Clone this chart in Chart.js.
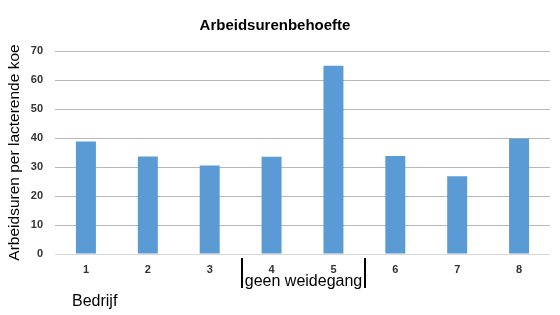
<!DOCTYPE html>
<html>
<head>
<meta charset="utf-8">
<script src="https://cdn.jsdelivr.net/npm/chart.js@4"></script>
<style>
  html, body { margin: 0; padding: 0; background: #fff; }
  #wrap { width: 560px; height: 315px; }
</style>
</head>
<body>
<div id="wrap"><canvas id="laborChart" width="560" height="315"></canvas></div>
<script>
const farms = ['1', '2', '3', '4', '5', '6', '7', '8'];
const hoursPerCow = [38.8, 33.6, 30.5, 33.5, 64.9, 33.8, 26.8, 39.8];
const yTicks = [0, 10, 20, 30, 40, 50, 60, 70];

const FONT = '"Liberation Sans", Arial, sans-serif';

// brackets under farms 4-5 plus the "Bedrijf" label
const extraLabels = {
  id: 'extraLabels',
  afterDraw(chart) {
    const { ctx, scales: { x } } = chart;
    const half = (x.getPixelForValue(1) - x.getPixelForValue(0)) / 2;
    const left = Math.round(x.getPixelForValue(3) - half) + 1;
    const right = Math.round(x.getPixelForValue(4) + half) + 1;

    ctx.save();
    ctx.strokeStyle = '#000';
    ctx.lineWidth = 2;
    ctx.beginPath();
    ctx.moveTo(left, 258);
    ctx.lineTo(left, 288);
    ctx.moveTo(right, 258);
    ctx.lineTo(right, 288);
    ctx.stroke();

    ctx.fillStyle = '#000';
    ctx.font = '16px ' + FONT;
    ctx.textAlign = 'center';
    ctx.textBaseline = 'middle';
    ctx.fillText('geen weidegang', (left + right) / 2, 282);

    ctx.textAlign = 'left';
    ctx.fillText('Bedrijf', 72, 302);
    ctx.restore();
  }
};

const ctx = document.getElementById('laborChart').getContext('2d');
new Chart(ctx, {
  type: 'bar',
  data: {
    labels: farms,
    datasets: [{
      data: hoursPerCow,
      backgroundColor: '#5b9bd5',
      borderWidth: 0,
      categoryPercentage: 1,
      barPercentage: 0.323
    }]
  },
  options: {
    responsive: false,
    animation: false,
    layout: { padding: { left: 0, right: 10, top: 0, bottom: 0 } },
    plugins: {
      legend: { display: false },
      tooltip: { enabled: false },
      title: {
        display: true,
        text: 'Arbeidsurenbehoefte',
        color: '#000',
        font: { family: FONT, size: 15, weight: 'bold' },
        padding: { top: 17, bottom: 16 }
      }
    },
    scales: {
      x: {
        grid: { display: false, drawTicks: false },
        border: { display: false },
        ticks: {
          color: '#333',
          font: { family: FONT, size: 11, weight: 'bold' },
          padding: 9
        },
        afterFit(scale) { scale.height = 61; }
      },
      y: {
        min: 0,
        max: 70,
        afterBuildTicks(scale) { scale.ticks = yTicks.map(v => ({ value: v })); },
        grid: {
          drawTicks: false,
          color: c => c.tick && c.tick.value === 0 ? '#d9d9d9' : '#b8b8b8'
        },
        border: { display: false },
        ticks: {
          color: '#333',
          font: { family: FONT, size: 11, weight: 'bold' },
          padding: 12
        },
        title: {
          display: true,
          text: 'Arbeidsuren per lacterende koe',
          color: '#000',
          font: { family: FONT, size: 15.5 },
          padding: { top: 5, bottom: 0 }
        },
        afterFit(scale) { scale.width = 55; }
      }
    }
  },
  plugins: [extraLabels]
});
</script>
</body>
</html>
